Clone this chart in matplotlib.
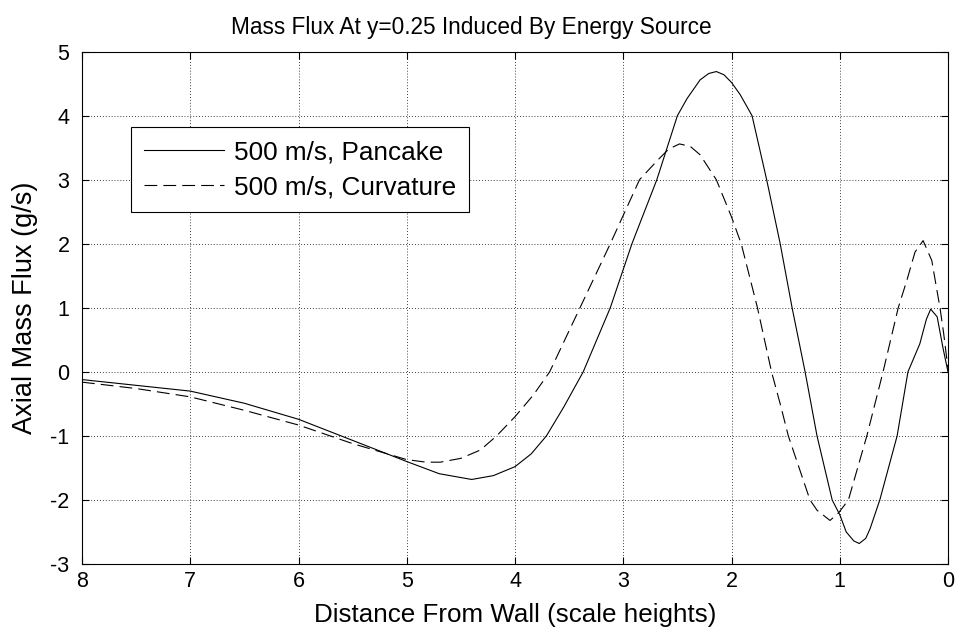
import matplotlib
matplotlib.use('Agg')
import matplotlib.pyplot as plt

plt.rcParams['font.family'] = ['Liberation Sans', 'DejaVu Sans']
plt.rcParams['axes.unicode_minus'] = False

# values (x = distance from wall, y = axial mass flux)
pancake_x = [8.0, 7.5, 7.0, 6.5, 6.0, 5.5, 5.0, 4.7, 4.4, 4.2, 4.0, 3.85, 3.71,
             3.55, 3.37, 3.12, 2.92, 2.69, 2.50, 2.41, 2.29, 2.21, 2.14, 2.07,
             2.0, 1.92, 1.81, 1.675, 1.55, 1.44, 1.32, 1.21, 1.07, 1.0, 0.94,
             0.87, 0.82, 0.76, 0.72, 0.63, 0.47, 0.37, 0.26, 0.20, 0.16, 0.10,
             0.046, 0.0]
pancake_y = [-0.12, -0.21, -0.30, -0.49, -0.74, -1.07, -1.40, -1.59, -1.68,
             -1.62, -1.48, -1.28, -1.0, -0.55, 0.0, 1.0, 2.0, 3.0, 4.0, 4.27,
             4.56, 4.66, 4.69, 4.64, 4.52, 4.33, 4.0, 3.0, 2.0, 1.0, 0.0, -1.0,
             -2.0, -2.23, -2.50, -2.64, -2.68, -2.60, -2.45, -2.0, -1.0, 0.0,
             0.44, 0.82, 0.98, 0.86, 0.37, 0.0]

curv_x = [8.0, 7.5, 7.0, 6.5, 6.0, 5.5, 5.0, 4.82, 4.69, 4.5, 4.32, 4.17, 4.0,
          3.83, 3.68, 3.40, 3.12, 2.85, 2.68, 2.58, 2.48, 2.38, 2.29, 2.14,
          2.0, 1.91, 1.76, 1.63, 1.55, 1.475, 1.275, 1.21, 1.09, 1.01, 0.92,
          0.75, 0.60, 0.46, 0.38, 0.305, 0.23, 0.15, 0.074, 0.04, 0.0]
curv_y = [-0.16, -0.26, -0.39, -0.60, -0.83, -1.12, -1.37, -1.41, -1.41, -1.35,
          -1.22, -1.0, -0.70, -0.36, 0.0, 1.0, 2.0, 3.0, 3.31, 3.48, 3.56, 3.52,
          3.39, 3.0, 2.42, 2.0, 1.0, 0.0, -0.5, -1.0, -2.0, -2.16, -2.32, -2.2,
          -2.0, -1.0, 0.0, 1.0, 1.43, 1.87, 2.05, 1.74, 1.0, 0.6, 0.05]

labels = ['500 m/s, Pancake', '500 m/s, Curvature']
x_ticks = [8, 7, 6, 5, 4, 3, 2, 1, 0]
y_ticks = [-3, -2, -1, 0, 1, 2, 3, 4, 5]

fig = plt.figure(figsize=(9.61, 6.37), dpi=100)
ax = fig.add_axes([82/961, 1-564/637, (948-82)/961, (564-51.7)/637])

ax.plot(pancake_x, pancake_y, color='k', lw=0.8, label=labels[0])
l2, = ax.plot(curv_x, curv_y, color='k', lw=0.8, label=labels[1])
l2.set_dashes([11.5, 5.5])

ax.set_xlim(8, 0)
ax.set_ylim(-3, 5)
ax.set_xticks(x_ticks)
ax.set_yticks(y_ticks)
ax.grid(True, color='k', linestyle=(0, (1, 2.5)), lw=0.6)
ax.tick_params(direction='in', length=5, top=True, right=True, labelsize=15.5, width=0.8)
ax.tick_params(axis='x', pad=5)
ax.tick_params(axis='y', pad=9)
for s in ax.spines.values():
    s.set_linewidth(0.8)

# MATLAB put the title a bit left of centre
ax.set_title('Mass Flux At y=0.25 Induced By Energy Source', fontsize=16.3, pad=13, x=0.449)
ax.set_xlabel('Distance From Wall (scale heights)', fontsize=18.7, labelpad=8)
ax.set_ylabel('Axial Mass Flux (g/s)', fontsize=19.5, labelpad=9)

leg = ax.legend(loc='upper left', bbox_to_anchor=(131/961, 1-127/637),
                bbox_transform=fig.transFigure, borderaxespad=0, fontsize=18.8,
                handlelength=3.05, handletextpad=0.4, fancybox=False,
                framealpha=1, edgecolor='k', borderpad=0.5, labelspacing=0.42)
leg.get_frame().set_linewidth(0.8)

fig.savefig('out.png', dpi=100)
